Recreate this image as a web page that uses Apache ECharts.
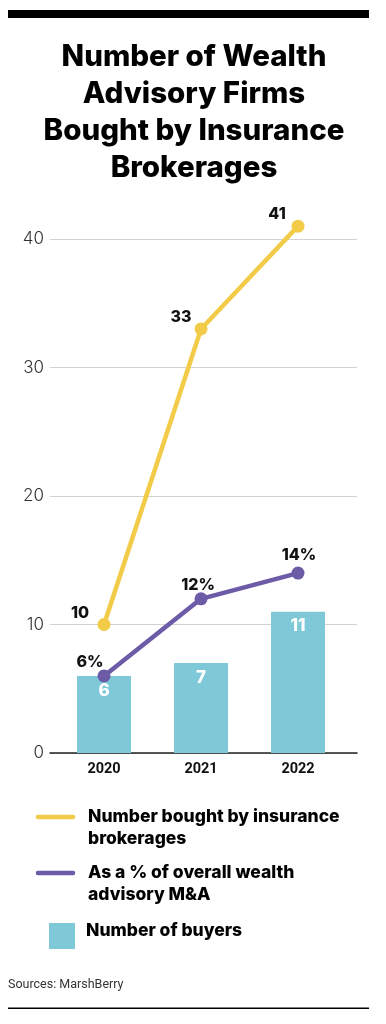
<!DOCTYPE html>
<html>
<head>
<meta charset="utf-8">
<script src="https://cdn.jsdelivr.net/npm/echarts@6/dist/echarts.min.js"></script>
<style>
  html, body { margin: 0; padding: 0; background: #fff; }
  #chart { width: 386px; height: 1024px; }
</style>
</head>
<body>
<div id="chart"></div>
<script>
// ---- Data ----
var years = [2020, 2021, 2022];
var boughtByBrokerages = [10, 33, 41];
var shareOfWealthMA = [6, 12, 14];      // percent
var numberOfBuyers = [6, 7, 11];
var yTicks = [0, 10, 20, 30, 40];

var titleText = 'Number of Wealth\nAdvisory Firms\nBought by Insurance\nBrokerages';
var legendNames = ['Number bought by insurance\nbrokerages', 'As a % of overall wealth\nadvisory M&A', 'Number of buyers'];
var sourceText = 'Sources: MarshBerry';

var YELLOW = '#F2CC48';
var PURPLE = '#6C5BA6';
var TEAL = '#7EC8D8';

function pairs(vals) { return years.map(function (y, i) { return [y, vals[i]]; }); }

var chart = echarts.init(document.getElementById('chart'), null, { renderer: 'canvas' });

var purpleOffsets = [[-14, 6], [-3, 6], [1, 2]];
var yellowOffsets = [[-24, 8], [-20, 8], [-21, 8]];

var option = {
  backgroundColor: '#fff',
  animation: false,
  title: {
    text: titleText,
    left: 189,
    top: 34,
    textAlign: 'center',
    textStyle: {
      fontFamily: 'Inter, Roboto, sans-serif',
      fontSize: 29.5,
      fontWeight: 800,
      lineHeight: 37,
      color: '#000'
    }
  },
  grid: { left: 50, right: 29, top: 239, bottom: 271, containLabel: false },
  xAxis: {
    type: 'value',
    min: 2019.443,
    max: 2022.608,
    splitLine: { show: false },
    axisTick: { show: false },
    axisLine: { show: true, onZero: false, lineStyle: { color: '#222', width: 1.5 } },
    axisLabel: {
      customValues: years,
      formatter: function (v) { return String(v); },
      margin: 9,
      fontFamily: 'Roboto, sans-serif',
      fontWeight: 'bold',
      fontSize: 14.5,
      color: '#111'
    }
  },
  yAxis: {
    type: 'value',
    min: 0,
    max: 40,
    interval: 10,
    axisLine: { show: false },
    axisTick: { show: false },
    splitLine: { show: true, lineStyle: { color: '#d2d2d2', width: 1.2 } },
    axisLabel: {
      margin: 6,
      fontFamily: 'Inter, Roboto, sans-serif',
      fontWeight: 300,
      fontSize: 17,
      color: '#333',
      formatter: function (v) { return yTicks.indexOf(v) >= 0 ? String(v) : ''; }
    }
  },
  series: [
    {
      name: legendNames[2],
      type: 'bar',
      data: pairs(numberOfBuyers),
      barWidth: 54,
      itemStyle: { color: TEAL },
      label: {
        show: true,
        position: 'insideTop',
        distance: 6,
        color: '#fff',
        fontFamily: 'Inter, Roboto, sans-serif',
        fontWeight: 800,
        fontSize: 17
      },
      z: 1
    },
    {
      name: legendNames[1],
      type: 'line',
      data: years.map(function (y, i) {
        return { value: [y, shareOfWealthMA[i]], label: { offset: purpleOffsets[i] } };
      }),
      clip: false,
      symbol: 'circle',
      symbolSize: 13,
      lineStyle: { color: PURPLE, width: 4.5 },
      itemStyle: { color: PURPLE },
      label: {
        show: true,
        position: 'top',
        distance: 5,
        formatter: function (p) { return p.value[1] + '%'; },
        color: '#111',
        fontFamily: 'Inter, Roboto, sans-serif',
        fontWeight: 800,
        fontSize: 16
      },
      z: 3
    },
    {
      name: legendNames[0],
      type: 'line',
      data: years.map(function (y, i) {
        return { value: [y, boughtByBrokerages[i]], label: { offset: yellowOffsets[i] } };
      }),
      clip: false,
      symbol: 'circle',
      symbolSize: 13,
      lineStyle: { color: YELLOW, width: 4.5 },
      itemStyle: { color: YELLOW },
      label: {
        show: true,
        position: 'top',
        distance: 5,
        formatter: function (p) { return String(p.value[1]); },
        color: '#111',
        fontFamily: 'Inter, Roboto, sans-serif',
        fontWeight: 800,
        fontSize: 16
      },
      z: 4
    }
  ],
  graphic: [
    { type: 'rect', shape: { x: 8, y: 10, width: 361, height: 8 }, style: { fill: '#000' } },
    { type: 'rect', shape: { x: 8, y: 1007.5, width: 361, height: 1.5 }, style: { fill: '#000' } },
    { type: 'line', shape: { x1: 38, y1: 817, x2: 73, y2: 817 }, style: { stroke: YELLOW, lineWidth: 4.5, lineCap: 'round' } },
    { type: 'text', x: 88, y: 806, style: { text: legendNames[0], fill: '#000', font: '800 17.5px Inter, Roboto, sans-serif', lineHeight: 22, verticalAlign: 'top' } },
    { type: 'line', shape: { x1: 38, y1: 873, x2: 73, y2: 873 }, style: { stroke: PURPLE, lineWidth: 4.5, lineCap: 'round' } },
    { type: 'text', x: 88, y: 862, style: { text: legendNames[1], fill: '#000', font: '800 17.5px Inter, Roboto, sans-serif', lineHeight: 22, verticalAlign: 'top' } },
    { type: 'rect', shape: { x: 49, y: 923, width: 26, height: 26 }, style: { fill: TEAL } },
    { type: 'text', x: 86, y: 931, style: { text: legendNames[2], fill: '#000', font: '800 17.5px Inter, Roboto, sans-serif', verticalAlign: 'middle' } },
    { type: 'text', x: 8, y: 985, style: { text: sourceText, fill: '#333', font: '12.5px Roboto, sans-serif', verticalAlign: 'middle' } }
  ]
};

chart.setOption(option);
</script>
</body>
</html>
